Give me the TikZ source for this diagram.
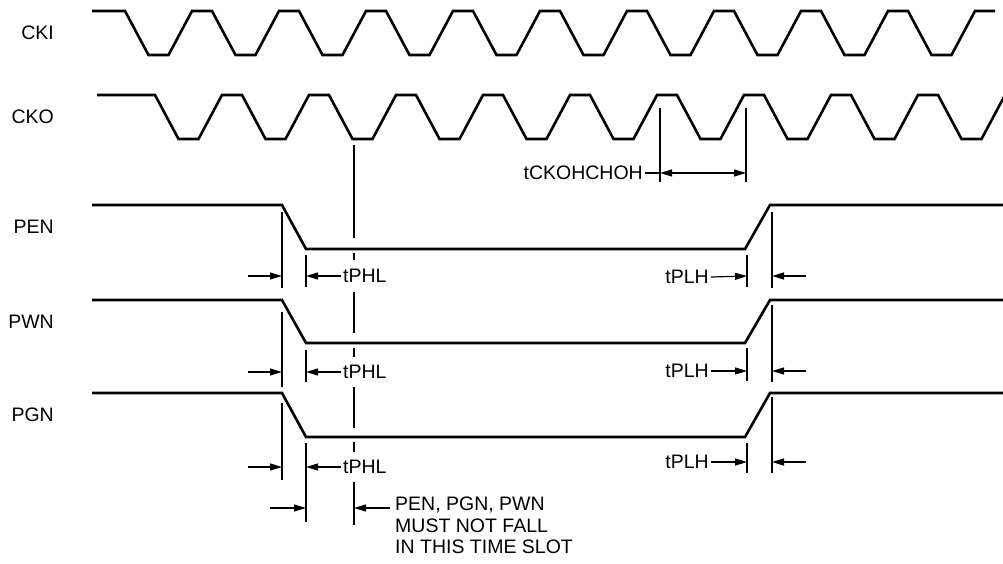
\documentclass[tikz,border=0pt]{standalone}
\usepackage{fontspec}
\setmainfont{Liberation Sans}
\usetikzlibrary{arrows.meta}

\begin{document}
\begin{tikzpicture}[x=1pt,y=-1pt]
				\tikzstyle{signal}=[draw=black,line width=2.6pt]
				\tikzstyle{dimline}=[draw=black,line width=1.2pt]
				\tikzstyle{arr}=[dimline,-{Triangle[length=12pt,width=7pt]}]
				\tikzstyle{signame}=[anchor=east,inner sep=0pt,font=\fontsize{19.5}{21.5}\selectfont]
				\tikzstyle{tlabel}=[inner sep=2pt,font=\fontsize{19.5}{21.5}\selectfont]
				\useasboundingbox (0,0) rectangle (1003,563);

				% signal names
				\node[signame](cki) at (54,33){CKI};
				\node[signame](cko) at (54,117){CKO};
				\node[signame](pen) at (54,227){PEN};
				\node[signame](pwn) at (54,322){PWN};
				\node[signame](pgn) at (54,415){PGN};

				% clocks
				\begin{scope}
					\clip (0,0) rectangle (1003,563);
					\draw[signal] (92,11) -- (125,11)
						\foreach \k in {0,...,9}{ -- ++(23.5,44) -- ++(20,0) -- ++(23.5,-44) -- ++(20,0)};
					\draw[signal] (97,95) -- (155,95)
						\foreach \k in {0,...,9}{ -- ++(23.5,44) -- ++(20,0) -- ++(23.5,-44) -- ++(20,0)};
				\end{scope}

				% clock period
				\draw[dimline] (660,108) -- (660,182);
				\draw[dimline] (746,108) -- (746,182);
				\node[tlabel,anchor=east](tck) at (645,173){tCKOHCHOH};
				\draw[dimline] (tck.east) -- (660,173);
				\draw[dimline,{Triangle[length=12pt,width=7pt]}-{Triangle[length=12pt,width=7pt]}] (660,173) -- (746,173);

				% PEN, PWN, PGN
				\draw[signal] (92,205) -- (282,205) -- (306,249) -- (745,249) -- (770,205) -- (1003,205);
				\draw[signal] (92,300) -- (282,300) -- (306,343) -- (745,343) -- (770,300) -- (1003,300);
				\draw[signal] (92,393) -- (282,393) -- (306,437) -- (745,437) -- (770,393) -- (1003,393);

				% delays
				\draw[dimline] (282,212) -- (282,288);
				\draw[dimline] (306,255) -- (306,287);
				\draw[dimline] (747,255) -- (747,287);
				\draw[dimline] (772,212) -- (772,288);
				\node[tlabel,anchor=west](phlA) at (341,276){tPHL};
				\node[tlabel,anchor=east](plhA) at (711,277){tPLH};
				\draw[arr] (248,276) -- (282,276);
				\draw[arr] (phlA.west) -- (306,276);
				\draw[arr] (plhA.east) -- (747,276);
				\draw[arr] (806,276) -- (772,276);

				\draw[dimline] (282,312) -- (282,387);
				\draw[dimline] (306,350) -- (306,382);
				\draw[dimline] (747,348) -- (747,381);
				\draw[dimline] (772,305) -- (772,382);
				\node[tlabel,anchor=west](phlB) at (341,372){tPHL};
				\node[tlabel,anchor=east](plhB) at (711,371){tPLH};
				\draw[arr] (248,372) -- (282,372);
				\draw[arr] (phlB.west) -- (306,372);
				\draw[arr] (plhB.east) -- (747,371);
				\draw[arr] (806,371) -- (772,371);

				\draw[dimline] (282,403) -- (282,480);
				\draw[dimline] (306,443) -- (306,522);
				\draw[dimline] (747,443) -- (747,473);
				\draw[dimline] (772,397) -- (772,473);
				\node[tlabel,anchor=west](phlC) at (341,467){tPHL};
				\node[tlabel,anchor=east](plhC) at (711,462){tPLH};
				\draw[arr] (248,467) -- (282,467);
				\draw[arr] (phlC.west) -- (306,467);
				\draw[arr] (plhC.east) -- (747,462);
				\draw[arr] (806,462) -- (772,462);

				% time slot
				\foreach \a/\b in {145/238,253/260,292/333,348/357,387/428,442/452,482/525}
					\draw[dimline] (354,\a) -- (354,\b);
				\node[tlabel,anchor=north west,inner sep=0pt,align=left](slot) at (395,497){PEN, PGN, PWN\\MUST NOT FALL\\IN THIS TIME SLOT};
				\draw[arr] (270,508) -- (306,508);
				\draw[arr] (390,508) -- (354,508);
\end{tikzpicture}
\end{document}
